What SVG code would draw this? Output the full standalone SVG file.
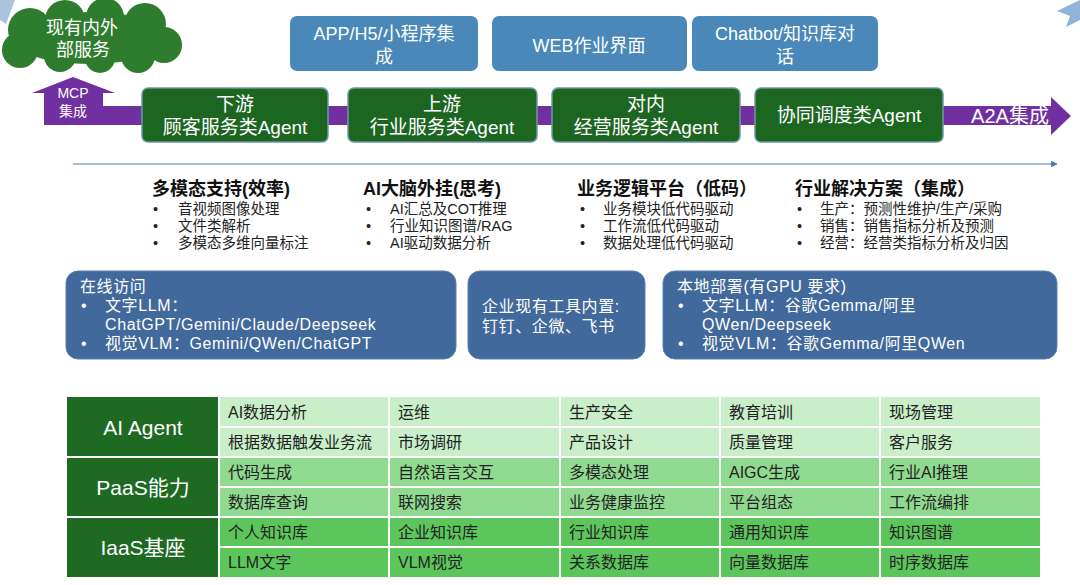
<svg xmlns="http://www.w3.org/2000/svg" width="1080" height="585" viewBox="0 0 1080 585">
<style>
text{font-family:"Liberation Sans","Noto Sans CJK SC",sans-serif}
.w{fill:#fff}
.agent{fill:#1d6621;stroke:#6e98a6;stroke-width:1.5}
.top{fill:#4a88ba}
.mid{fill:#41699b;stroke:#5d82b0;stroke-width:1}
.h{font-size:18px;font-weight:bold;fill:#111}
.b{font-size:14.5px;fill:#222}
.m{font-size:16px;fill:#fff;letter-spacing:0.6px}
.c{font-size:16px;fill:#222}
.hd{font-size:21px;fill:#fff}
.r1{fill:#c8efc8}.r2{fill:#8fda8f}.r3{fill:#5cc65c}
</style>
<defs>
<marker id="ah" viewBox="0 0 10 10" refX="9" refY="5" markerWidth="7" markerHeight="7" orient="auto" markerUnits="userSpaceOnUse"><path d="M0,0 L10,5 L0,10 Z" fill="#4a79b0"/></marker>
</defs>
<rect width="1080" height="585" fill="#fff"/>
<polygon points="0,0 15,0 6,24 0,20" fill="#a9c4dc"/>
<polygon points="1080,0 1057,11 1070,16 1066,27 1080,20" fill="#8fb4d8"/>

<g id="connectors">
<path d="M44,125 L44,93 L32,93 L73,77 L115,93 L103,93 L103,106 L1051,106 L1051,97 L1071,116 L1051,135 L1051,125 Z" fill="#7030a0"/>
<line x1="73" y1="164" x2="1057" y2="164" stroke="#8aa6c6" stroke-width="1.5" marker-end="url(#ah)"/>
<text class="w" font-size="14" text-anchor="middle"><tspan x="73" y="98">MCP</tspan><tspan x="73" y="116">集成</tspan></text>
<text x="1010" y="123" class="w" font-size="20" text-anchor="middle">A2A集成</text>
</g>

<g id="cloud">
<g fill="#2e7d2e">
<circle cx="30" cy="30" r="22"/><circle cx="65" cy="20" r="20"/><circle cx="105" cy="17" r="19"/><circle cx="145" cy="24" r="21"/><circle cx="164" cy="45" r="18"/><circle cx="138" cy="56" r="17"/><circle cx="100" cy="58" r="15"/><circle cx="60" cy="56" r="16"/><circle cx="20" cy="50" r="18"/><ellipse cx="90" cy="38" rx="78" ry="26"/>
</g>
<text class="w" font-size="18" text-anchor="middle"><tspan x="82" y="34">现有内外</tspan><tspan x="83" y="56">部服务</tspan></text>
</g>

<g id="app"><rect x="290" y="16" width="188" height="55" rx="7" class="top"/>
<text class="w" font-size="18" text-anchor="middle"><tspan x="384" y="40">APP/H5/小程序集</tspan><tspan x="384" y="63">成</tspan></text></g>
<g id="web"><rect x="492" y="16" width="195" height="55" rx="7" class="top"/>
<text x="589" y="52" class="w" font-size="18" text-anchor="middle">WEB作业界面</text></g>
<g id="chatbot"><rect x="692" y="16" width="186" height="55" rx="7" class="top"/>
<text class="w" font-size="18" text-anchor="middle"><tspan x="785" y="40">Chatbot/知识库对</tspan><tspan x="785" y="63">话</tspan></text></g>

<g id="agent1"><rect x="142" y="88" width="186" height="54" rx="6" class="agent"/>
<text class="w" font-size="19" text-anchor="middle"><tspan x="235" y="111">下游</tspan><tspan x="235" y="134">顾客服务类Agent</tspan></text></g>
<g id="agent2"><rect x="348" y="88" width="189" height="54" rx="6" class="agent"/>
<text class="w" font-size="19" text-anchor="middle"><tspan x="442" y="111">上游</tspan><tspan x="442" y="134">行业服务类Agent</tspan></text></g>
<g id="agent3"><rect x="552" y="88" width="188" height="54" rx="6" class="agent"/>
<text class="w" font-size="19" text-anchor="middle"><tspan x="646" y="111">对内</tspan><tspan x="646" y="134">经营服务类Agent</tspan></text></g>
<g id="agent4"><rect x="755" y="88" width="188" height="54" rx="6" class="agent"/>
<text x="849" y="122" class="w" font-size="19" text-anchor="middle">协同调度类Agent</text></g>

<g id="sec1">
<text class="h"><tspan x="152" y="195">多模态支持(效率)</tspan></text>
<text class="b"><tspan x="153" y="214">•</tspan><tspan x="178" y="214">音视频图像处理</tspan><tspan x="153" y="231">•</tspan><tspan x="178" y="231">文件类解析</tspan><tspan x="153" y="248">•</tspan><tspan x="178" y="248">多模态多维向量标注</tspan></text>
</g>
<g id="sec2">
<text class="h"><tspan x="363" y="195">AI大脑外挂(思考)</tspan></text>
<text class="b"><tspan x="366" y="214">•</tspan><tspan x="390" y="214">AI汇总及COT推理</tspan><tspan x="366" y="231">•</tspan><tspan x="390" y="231">行业知识图谱/RAG</tspan><tspan x="366" y="248">•</tspan><tspan x="390" y="248">AI驱动数据分析</tspan></text>
</g>
<g id="sec3">
<text class="h"><tspan x="577" y="195">业务逻辑平台（低码）</tspan></text>
<text class="b"><tspan x="580" y="214">•</tspan><tspan x="603" y="214">业务模块低代码驱动</tspan><tspan x="580" y="231">•</tspan><tspan x="603" y="231">工作流低代码驱动</tspan><tspan x="580" y="248">•</tspan><tspan x="603" y="248">数据处理低代码驱动</tspan></text>
</g>
<g id="sec4">
<text class="h"><tspan x="795" y="195">行业解决方案（集成）</tspan></text>
<text class="b"><tspan x="797" y="214">•</tspan><tspan x="820" y="214">生产：预测性维护/生产/采购</tspan><tspan x="797" y="231">•</tspan><tspan x="820" y="231">销售：销售指标分析及预测</tspan><tspan x="797" y="248">•</tspan><tspan x="820" y="248">经营：经营类指标分析及归因</tspan></text>
</g>

<g id="online"><rect x="66" y="271" width="390" height="88" rx="12" class="mid"/>
<text class="m"><tspan x="80" y="292">在线访问</tspan><tspan x="81" y="311">•</tspan><tspan x="105" y="311">文字LLM：</tspan><tspan x="105" y="330">ChatGPT/Gemini/Claude/Deepseek</tspan><tspan x="81" y="349">•</tspan><tspan x="105" y="349">视觉VLM：Gemini/QWen/ChatGPT</tspan></text></g>
<g id="tools"><rect x="468" y="271" width="177" height="88" rx="12" class="mid"/>
<text class="m"><tspan x="482" y="312">企业现有工具内置:</tspan><tspan x="482" y="332">钉钉、企微、飞书</tspan></text></g>
<g id="local"><rect x="663" y="271" width="394" height="88" rx="12" class="mid"/>
<text class="m"><tspan x="677" y="292">本地部署(有GPU 要求)</tspan><tspan x="678" y="311">•</tspan><tspan x="702" y="311">文字LLM：谷歌Gemma/阿里</tspan><tspan x="702" y="330">QWen/Deepseek</tspan><tspan x="678" y="349">•</tspan><tspan x="702" y="349">视觉VLM：谷歌Gemma/阿里QWen</tspan></text></g>

<g id="table">
<rect x="67" y="397" width="152" height="180" fill="#1e6a23"/>
<rect x="219" y="397" width="821" height="60" class="r1"/>
<rect x="219" y="457" width="821" height="60" class="r2"/>
<rect x="219" y="517" width="821" height="60" class="r3"/>
<g stroke="#fff" stroke-width="2">
<line x1="219" y1="427" x2="1040" y2="427"/><line x1="67" y1="457" x2="1040" y2="457"/><line x1="219" y1="487" x2="1040" y2="487"/><line x1="67" y1="517" x2="1040" y2="517"/><line x1="219" y1="547" x2="1040" y2="547"/>
<line x1="219" y1="397" x2="219" y2="577"/><line x1="389" y1="397" x2="389" y2="577"/><line x1="560" y1="397" x2="560" y2="577"/><line x1="720" y1="397" x2="720" y2="577"/><line x1="880" y1="397" x2="880" y2="577"/>
</g>
<text x="143" y="435" class="hd" text-anchor="middle">AI Agent</text>
<text x="143" y="495" class="hd" text-anchor="middle">PaaS能力</text>
<text x="143" y="555" class="hd" text-anchor="middle">IaaS基座</text>
<text x="228" y="418" class="c">AI数据分析</text><text x="398" y="418" class="c">运维</text><text x="569" y="418" class="c">生产安全</text><text x="729" y="418" class="c">教育培训</text><text x="889" y="418" class="c">现场管理</text>
<text x="228" y="448" class="c">根据数据触发业务流</text><text x="398" y="448" class="c">市场调研</text><text x="569" y="448" class="c">产品设计</text><text x="729" y="448" class="c">质量管理</text><text x="889" y="448" class="c">客户服务</text>
<text x="228" y="478" class="c">代码生成</text><text x="398" y="478" class="c">自然语言交互</text><text x="569" y="478" class="c">多模态处理</text><text x="729" y="478" class="c">AIGC生成</text><text x="889" y="478" class="c">行业AI推理</text>
<text x="228" y="508" class="c">数据库查询</text><text x="398" y="508" class="c">联网搜索</text><text x="569" y="508" class="c">业务健康监控</text><text x="729" y="508" class="c">平台组态</text><text x="889" y="508" class="c">工作流编排</text>
<text x="228" y="538" class="c">个人知识库</text><text x="398" y="538" class="c">企业知识库</text><text x="569" y="538" class="c">行业知识库</text><text x="729" y="538" class="c">通用知识库</text><text x="889" y="538" class="c">知识图谱</text>
<text x="228" y="568" class="c">LLM文字</text><text x="398" y="568" class="c">VLM视觉</text><text x="569" y="568" class="c">关系数据库</text><text x="729" y="568" class="c">向量数据库</text><text x="889" y="568" class="c">时序数据库</text>
</g>
</svg>
